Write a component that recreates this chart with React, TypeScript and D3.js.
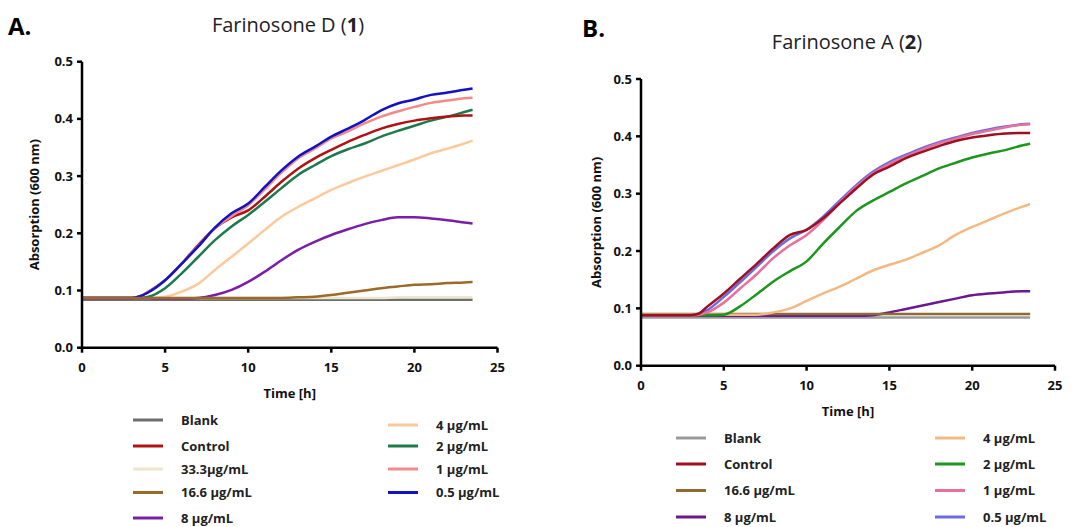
import React from "react";
import * as d3 from "d3";

const hours = [0, 1, 2, 3, 3.5, 4, 5, 6, 7, 8, 9, 10, 11, 12, 13, 14, 15, 16, 17, 18, 19, 20, 21, 22, 23, 23.5];

// Panel A – Farinosone D (1)
const aBlank = [0.084,0.084,0.084,0.084,0.084,0.084,0.084,0.084,0.084,0.084,0.084,0.084,0.084,0.084,0.084,0.084,0.084,0.084,0.084,0.084,0.084,0.084,0.084,0.084,0.084,0.084];
const a333 = [0.087,0.087,0.087,0.087,0.087,0.087,0.087,0.087,0.087,0.087,0.087,0.087,0.087,0.087,0.087,0.087,0.087,0.087,0.087,0.087,0.088,0.088,0.088,0.088,0.088,0.088];
const a166 = [0.087,0.087,0.087,0.087,0.087,0.087,0.087,0.087,0.087,0.087,0.087,0.087,0.087,0.087,0.088,0.089,0.092,0.096,0.100,0.104,0.107,0.110,0.111,0.113,0.114,0.115];
const a8 = [0.086,0.086,0.086,0.086,0.086,0.086,0.086,0.086,0.087,0.092,0.101,0.115,0.133,0.153,0.171,0.185,0.197,0.207,0.216,0.223,0.228,0.228,0.226,0.223,0.219,0.217];
const a4 = [0.087,0.087,0.087,0.087,0.087,0.087,0.089,0.098,0.112,0.136,0.159,0.182,0.206,0.229,0.246,0.261,0.276,0.288,0.299,0.309,0.319,0.329,0.340,0.348,0.357,0.362];
const a2 = [0.087,0.087,0.087,0.087,0.087,0.089,0.104,0.130,0.159,0.188,0.212,0.232,0.255,0.279,0.302,0.319,0.335,0.347,0.357,0.369,0.379,0.388,0.397,0.404,0.412,0.416];
const a1 = [0.087,0.087,0.087,0.087,0.090,0.098,0.118,0.147,0.178,0.209,0.230,0.249,0.277,0.306,0.331,0.348,0.366,0.378,0.392,0.404,0.413,0.421,0.428,0.432,0.436,0.437];
const aCtrl = [0.087,0.087,0.087,0.087,0.090,0.098,0.118,0.147,0.180,0.209,0.228,0.240,0.264,0.290,0.313,0.331,0.346,0.360,0.372,0.383,0.391,0.397,0.401,0.404,0.406,0.406];
const a05 = [0.087,0.087,0.087,0.087,0.090,0.097,0.118,0.147,0.177,0.210,0.235,0.252,0.281,0.310,0.334,0.351,0.369,0.383,0.398,0.415,0.427,0.434,0.442,0.446,0.451,0.453];

// Panel B – Farinosone A (2)
const bBlank = [0.084,0.084,0.084,0.084,0.084,0.084,0.084,0.084,0.084,0.084,0.084,0.084,0.084,0.084,0.084,0.084,0.084,0.084,0.084,0.084,0.084,0.084,0.084,0.084,0.084,0.084];
const b166 = [0.090,0.090,0.090,0.090,0.090,0.090,0.090,0.090,0.090,0.090,0.090,0.090,0.090,0.090,0.090,0.090,0.090,0.090,0.090,0.090,0.090,0.090,0.090,0.090,0.090,0.090];
const b8 = [0.087,0.087,0.087,0.087,0.087,0.087,0.087,0.087,0.087,0.087,0.087,0.087,0.087,0.087,0.087,0.088,0.093,0.099,0.105,0.111,0.117,0.123,0.126,0.128,0.130,0.130];
const b4 = [0.089,0.089,0.089,0.089,0.089,0.089,0.089,0.089,0.089,0.093,0.100,0.113,0.126,0.138,0.152,0.166,0.176,0.185,0.197,0.210,0.228,0.242,0.254,0.266,0.277,0.282];
const b2 = [0.088,0.088,0.088,0.088,0.088,0.088,0.089,0.104,0.125,0.147,0.165,0.182,0.213,0.242,0.270,0.288,0.303,0.318,0.331,0.344,0.354,0.363,0.370,0.376,0.384,0.387];
const b1 = [0.088,0.088,0.088,0.088,0.089,0.093,0.110,0.135,0.160,0.188,0.210,0.228,0.254,0.284,0.312,0.335,0.352,0.365,0.377,0.388,0.396,0.404,0.410,0.416,0.420,0.421];
const b05 = [0.088,0.088,0.088,0.088,0.090,0.097,0.120,0.146,0.173,0.200,0.222,0.237,0.260,0.288,0.315,0.338,0.355,0.368,0.380,0.390,0.398,0.406,0.412,0.417,0.421,0.422];
const bCtrl = [0.088,0.088,0.088,0.088,0.091,0.103,0.126,0.152,0.178,0.205,0.228,0.237,0.257,0.283,0.309,0.333,0.347,0.362,0.373,0.383,0.392,0.398,0.402,0.405,0.406,0.406];

const xTicks = [0, 5, 10, 15, 20, 25];
const yTicks = [0, 0.1, 0.2, 0.3, 0.4, 0.5];

type Series = { label: string; color: string; values: number[] };

const seriesA: Series[] = [
  { label: "Blank", color: "#6e6e6e", values: aBlank },
  { label: "33.3µg/mL", color: "#ece7cc", values: a333 },
  { label: "8 µg/mL", color: "#7a1ea6", values: a8 },
  { label: "4 µg/mL", color: "#fcc99a", values: a4 },
  { label: "2 µg/mL", color: "#1c7a4c", values: a2 },
  { label: "Control", color: "#b01212", values: aCtrl },
  { label: "1 µg/mL", color: "#f38a8a", values: a1 },
  { label: "0.5 µg/mL", color: "#1212c4", values: a05 },
  { label: "16.6 µg/mL", color: "#9b6a28", values: a166 },
];
const legendA1 = ["Blank", "Control", "33.3µg/mL", "16.6 µg/mL", "8 µg/mL"];
const legendA2 = ["4 µg/mL", "2 µg/mL", "1 µg/mL", "0.5 µg/mL"];

const seriesB: Series[] = [
  { label: "Blank", color: "#9a9a9a", values: bBlank },
  { label: "8 µg/mL", color: "#6c1890", values: b8 },
  { label: "16.6 µg/mL", color: "#8f6a32", values: b166 },
  { label: "4 µg/mL", color: "#f2b982", values: b4 },
  { label: "2 µg/mL", color: "#1c961c", values: b2 },
  { label: "0.5 µg/mL", color: "#6b6be2", values: b05 },
  { label: "1 µg/mL", color: "#e8709c", values: b1 },
  { label: "Control", color: "#9e1020", values: bCtrl },
];
const legendB1 = ["Blank", "Control", "16.6 µg/mL", "8 µg/mL"];
const legendB2 = ["4 µg/mL", "2 µg/mL", "1 µg/mL", "0.5 µg/mL"];

const FONT = "'Open Sans', 'DejaVu Sans', sans-serif";

type PanelProps = {
  letter: string;
  letterX: number;
  letterY: number;
  title: string;
  num: string;
  titleX: number;
  titleY: number;
  x0: number;
  x1: number;
  yTop: number;
  yBot: number;
  yLabelX: number;
  timeY: number;
  series: Series[];
  leg1: string[];
  leg2: string[];
  leg1X: number;
  leg2X: number;
  leg1Y: number[];
  leg2Y: number[];
};

function Panel(p: PanelProps) {
  const x = d3.scaleLinear().domain([0, 25]).range([p.x0, p.x1]);
  const y = d3.scaleLinear().domain([0, 0.5]).range([p.yBot, p.yTop]);
  const line = d3
    .line<number>()
    .x((_, i) => x(hours[i]))
    .y((v) => y(v))
    .curve(d3.curveMonotoneX);
  const colorOf = (lab: string) => p.series.find((s) => s.label === lab)!.color;
  const legendItem = (lab: string, lx: number, ly: number) => (
    <g key={lab}>
      <line x1={lx} x2={lx + 30} y1={ly} y2={ly} stroke={colorOf(lab)} strokeWidth={3} />
      <text x={lx + 48} y={ly + 4.5} fontSize={13} fontWeight={700} fill="#222" fontFamily={FONT}>
        {lab}
      </text>
    </g>
  );
  return (
    <g>
      <text x={p.letterX} y={p.letterY} fontSize={24} fontWeight={700} fontFamily={FONT} fill="#000">
        {p.letter}
      </text>
      <text x={p.titleX} y={p.titleY} fontSize={20} textAnchor="middle" fontFamily={FONT} fill="#222">
        {p.title} (<tspan fontWeight={700}>{p.num}</tspan>)
      </text>
      {p.series.map((s) => (
        <path key={s.label} d={line(s.values) || ""} fill="none" stroke={s.color} strokeWidth={2.5} />
      ))}
      {/* axes */}
      <line x1={p.x0} x2={p.x0} y1={p.yTop} y2={p.yBot} stroke="#000" strokeWidth={2.5} />
      <line x1={p.x0} x2={p.x1} y1={p.yBot} y2={p.yBot} stroke="#000" strokeWidth={2.5} />
      {yTicks.map((t) => (
        <g key={"y" + t}>
          <line x1={p.x0 - 5} x2={p.x0} y1={y(t)} y2={y(t)} stroke="#000" strokeWidth={2.5} />
          <text x={p.x0 - 9} y={y(t) + 4.5} textAnchor="end" fontSize={13} fontWeight={700} fontFamily={FONT} fill="#111">
            {d3.format(".1f")(t)}
          </text>
        </g>
      ))}
      {xTicks.map((t) => (
        <g key={"x" + t}>
          <line x1={x(t)} x2={x(t)} y1={p.yBot} y2={p.yBot + 5} stroke="#000" strokeWidth={2.5} />
          <text x={x(t)} y={p.yBot + 24} textAnchor="middle" fontSize={13} fontWeight={700} fontFamily={FONT} fill="#111">
            {t}
          </text>
        </g>
      ))}
      <text
        transform={`translate(${p.yLabelX},${(p.yTop + p.yBot) / 2}) rotate(-90)`}
        textAnchor="middle"
        fontSize={13}
        fontWeight={700}
        fontFamily={FONT}
        fill="#111"
      >
        Absorption (600 nm)
      </text>
      <text x={(p.x0 + p.x1) / 2} y={p.timeY} textAnchor="middle" fontSize={13} fontWeight={700} fontFamily={FONT} fill="#111">
        Time [h]
      </text>
      {p.leg1.map((lab, i) => legendItem(lab, p.leg1X, p.leg1Y[i]))}
      {p.leg2.map((lab, i) => legendItem(lab, p.leg2X, p.leg2Y[i]))}
    </g>
  );
}

export default function App() {
  return (
    <svg width={1082} height={527} style={{ position: "absolute", left: 0, top: 0, background: "#fff" }}>
      <rect width={1082} height={527} fill="#fff" />
      <Panel
        letter="A."
        letterX={8}
        letterY={35}
        title="Farinosone D"
        num="1"
        titleX={288}
        titleY={32}
        x0={82}
        x1={497.5}
        yTop={61.7}
        yBot={347.7}
        yLabelX={39}
        timeY={398}
        series={seriesA}
        leg1={legendA1}
        leg2={legendA2}
        leg1X={133}
        leg2X={388}
        leg1Y={[420, 446, 469, 492.5, 518]}
        leg2Y={[425, 446, 469, 492.5]}
      />
      <Panel
        letter="B."
        letterX={582}
        letterY={37}
        title="Farinosone A"
        num="2"
        titleX={847}
        titleY={49}
        x0={641}
        x1={1055}
        yTop={79}
        yBot={365.7}
        yLabelX={601}
        timeY={416}
        series={seriesB}
        leg1={legendB1}
        leg2={legendB2}
        leg1X={676}
        leg2X={935}
        leg1Y={[438, 464, 490.5, 517]}
        leg2Y={[438, 464, 490.5, 517]}
      />
    </svg>
  );
}
